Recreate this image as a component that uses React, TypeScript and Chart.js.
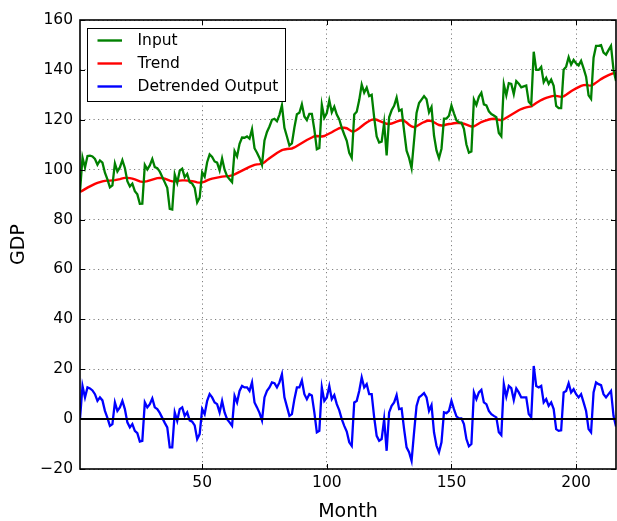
import { useEffect, useRef } from "react";
import { Chart, registerables } from "chart.js";

Chart.register(...registerables);

const months: number[] = Array.from({ length: 216 }, (_, i) => i + 1);

const trend: number[] = [
  91.1, 91.6, 92.2, 92.8, 93.3, 93.8, 94.3, 94.7, 95.0, 95.3,
  95.5, 95.6, 95.6, 95.7, 95.8, 96.0, 96.2, 96.5, 96.7, 96.7,
  96.6, 96.4, 96.1, 95.7, 95.3, 95.1, 95.2, 95.4, 95.7, 96.0,
  96.3, 96.6, 96.7, 96.6, 96.4, 96.0, 95.6, 95.3, 95.3, 95.4,
  95.6, 95.7, 95.7, 95.6, 95.5, 95.4, 95.2, 94.9, 94.8, 94.9,
  95.2, 95.7, 96.1, 96.4, 96.6, 96.8, 97.0, 97.2, 97.3, 97.4,
  97.5, 97.7, 98.1, 98.6, 99.1, 99.6, 100.1, 100.6, 101.1, 101.5,
  101.9, 102.1, 102.2, 102.4, 103.0, 103.8, 104.6, 105.3, 106.0, 106.7,
  107.3, 107.8, 108.1, 108.3, 108.4, 108.5, 108.9, 109.5, 110.1, 110.7,
  111.3, 111.9, 112.4, 112.9, 113.4, 113.5, 113.4, 113.3, 113.5, 114.0,
  114.5, 115.0, 115.6, 116.1, 116.6, 116.8, 116.8, 116.6, 116.0, 115.4,
  115.4, 115.9, 116.6, 117.4, 118.2, 118.9, 119.5, 120.0, 120.2, 120.0,
  119.6, 119.2, 118.8, 118.4, 118.3, 118.5, 118.9, 119.3, 119.6, 119.8,
  119.6, 118.9, 118.0, 117.3, 117.0, 117.4, 118.0, 118.6, 119.1, 119.5,
  119.7, 119.5, 119.0, 118.4, 117.9, 117.7, 117.8, 118.1, 118.3, 118.4,
  118.6, 118.7, 118.7, 118.6, 118.4, 118.1, 117.7, 117.3, 117.4, 117.9,
  118.5, 119.1, 119.5, 119.8, 120.1, 120.3, 120.4, 120.3, 120.0, 119.8,
  120.2, 120.8, 121.4, 122.0, 122.6, 123.2, 123.8, 124.3, 124.7, 125.0,
  125.2, 125.4, 126.0, 126.7, 127.3, 127.9, 128.4, 128.8, 129.1, 129.4,
  129.6, 129.6, 129.4, 129.2, 129.4, 130.0, 130.7, 131.4, 132.0, 132.6,
  133.1, 133.6, 133.9, 134.0, 133.8, 133.7, 134.2, 134.9, 135.6, 136.3,
  136.9, 137.4, 137.9, 138.3, 138.7, 138.5,
];

const detrended: number[] = [
  0, 13.3, 8.7, 12.7, 12.3, 11.5, 10, 7.3, 8.7, 7.5,
  3.3, 0.5, -2.7, -2, 6.7, 3.3, 4.7, 7.3, 4, -1.3,
  -3.3, -2, -4.7, -5.6, -9, -8.7, 6.7, 4.7, 6, 8.3,
  4.7, 4, 2.5, 0.5, -1.5, -3.3, -11.3, -11.3, 2.7, -0.7,
  4, 4.7, 1.3, 2.7, -0.5, -1, -2.5, -8, -6, 4,
  2, 7.3, 10, 8.7, 6.7, 6, 2.7, 7.3, 2.7, 0,
  -1.3, -2.7, 9.3, 6.7, 11.3, 13.3, 12.7, 12.7, 11.3, 14.7,
  6.7, 4.7, 2.5, -0.5, 8.7, 11.3, 12.7, 14.7, 14.4, 12.7,
  14.7, 18, 8.7, 5, 1.3, 2, 8, 12.7, 12.7, 15.5,
  10, 8, 10, 9.5, 2.7, -5.3, -4.7, 12.7, 7.3, 8.7,
  13.3, 8, 9.6, 6, 3.5, 0, -2.7, -5, -9.3, -10.7,
  6.7, 7.3, 11.3, 16.7, 12.7, 14, 10, 10, 0.7, -6.7,
  -8.7, -8, 0, -12.7, 2.7, 5.3, 6.7, 9.6, 4, 4.3,
  -4, -11.3, -13.3, -16.7, -5.3, 5.3, 8.7, 9.5, 10.4, 8.7,
  3.3, 5.6, -5.3, -10.7, -13.3, -9.3, 2.7, 2.4, 3.3, 7.3,
  4, 1.1, 0.3, 0.3, -2, -8, -10.9, -10, 10.7, 8,
  10.7, 11.7, 6.7, 6, 3.3, 2, 1.3, 0.7, -5.3, -6.4,
  14, 9, 13.3, 12.4, 7.7, 12.3, 10.7, 8.7, 8.7, 8.7,
  2, 0.7, 21.3, 13.3, 12.7, 13.3, 6.7, 8, 5.3, 6.7,
  4, -4, -4.7, -4.5, 10.7, 11.3, 14.4, 10.7, 12, 10,
  8.7, 10, 6.7, 3.3, -4, -5.3, 10.7, 14.7, 14, 13.6,
  10, 8.7, 10, 11.3, 1.3, -3,
];

// Input series = trend + detrended output
const input: number[] = trend.map((t, i) => Math.round((t + detrended[i]) * 100) / 100);

const xTicks: number[] = [50, 100, 150, 200];
const yTicks: number[] = [-20, 0, 20, 40, 60, 80, 100, 120, 140, 160];

const seriesNames = ["Input", "Trend", "Detrended Output"];
const seriesColors = ["#008000", "#ff0000", "#0000ff"];

const FONT = "'DejaVu Sans', 'Liberation Sans', sans-serif";

const framePlugin = {
  id: "mplFrame",
  afterDatasetsDraw(chart: any) {
    const { ctx, chartArea: a, scales } = chart;
    const xs = scales.x;
    const ys = scales.y;
    ctx.save();
    // zero line
    const y0 = ys.getPixelForValue(0);
    ctx.strokeStyle = "#000";
    ctx.lineWidth = 2;
    ctx.beginPath();
    ctx.moveTo(a.left, y0);
    ctx.lineTo(a.right, y0);
    ctx.stroke();
    // frame
    ctx.lineWidth = 1.6;
    ctx.strokeRect(a.left, a.top, a.right - a.left, a.bottom - a.top);
    // inward ticks
    ctx.lineWidth = 1;
    const tl = 5;
    ctx.beginPath();
    for (const v of xTicks) {
      const px = Math.round(xs.getPixelForValue(v)) + 0.5;
      ctx.moveTo(px, a.bottom);
      ctx.lineTo(px, a.bottom - tl);
      ctx.moveTo(px, a.top);
      ctx.lineTo(px, a.top + tl);
    }
    for (const v of yTicks) {
      const py = Math.round(ys.getPixelForValue(v)) + 0.5;
      ctx.moveTo(a.left, py);
      ctx.lineTo(a.left + tl, py);
      ctx.moveTo(a.right, py);
      ctx.lineTo(a.right - tl, py);
    }
    ctx.stroke();
    // legend
    const bx = 87.5, by = 28.5, bw = 198, bh = 73;
    ctx.fillStyle = "#fff";
    ctx.fillRect(bx, by, bw, bh);
    ctx.strokeStyle = "#000";
    ctx.lineWidth = 1;
    ctx.strokeRect(bx, by, bw, bh);
    ctx.font = `15.5px ${FONT}`;
    ctx.textBaseline = "middle";
    ctx.textAlign = "left";
    seriesNames.forEach((name, i) => {
      const cy = 40.5 + i * 23;
      ctx.strokeStyle = seriesColors[i];
      ctx.lineWidth = 2.4;
      ctx.beginPath();
      ctx.moveTo(97.5, cy);
      ctx.lineTo(122, cy);
      ctx.stroke();
      ctx.fillStyle = "#000";
      ctx.fillText(name, 137.5, cy);
    });
    ctx.restore();
  },
};

export default function App() {
  const ref = useRef<HTMLCanvasElement | null>(null);

  useEffect(() => {
    if (!ref.current) return;
    const mk = (arr: number[]) => arr.map((y, i) => ({ x: months[i], y }));
    const chart = new Chart(ref.current, {
      type: "line",
      data: {
        datasets: [
          { label: seriesNames[0], data: mk(input), borderColor: seriesColors[0], borderWidth: 2.3 },
          { label: seriesNames[1], data: mk(trend), borderColor: seriesColors[1], borderWidth: 2.4 },
          { label: seriesNames[2], data: mk(detrended), borderColor: seriesColors[2], borderWidth: 2.3 },
        ],
      },
      options: {
        responsive: false,
        animation: false,
        devicePixelRatio: 1,
        layout: { padding: { top: 20, right: 1, left: 0, bottom: 0 } },
        elements: { point: { radius: 0 }, line: { tension: 0, fill: false } },
        plugins: { legend: { display: false }, tooltip: { enabled: false } },
        scales: {
          x: {
            type: "linear",
            min: 1,
            max: 216,
            afterBuildTicks: (s: any) => {
              s.ticks = xTicks.map((v) => ({ value: v }));
            },
            afterFit: (s: any) => {
              s.height = 52;
            },
            grid: { color: "rgba(0,0,0,0.5)", lineWidth: 1, drawTicks: false },
            border: { display: false, dash: [1.2, 3.3] },
            ticks: {
              autoSkip: false,
              maxRotation: 0,
              padding: 5,
              color: "#000",
              font: { family: FONT, size: 15.5 },
            },
            title: {
              display: true,
              text: "Month",
              color: "#000",
              font: { family: FONT, size: 19, lineHeight: 1 },
              padding: { top: 0, bottom: -1 },
            },
          },
          y: {
            type: "linear",
            min: -20,
            max: 160,
            afterBuildTicks: (s: any) => {
              s.ticks = yTicks.map((v) => ({ value: v }));
            },
            afterFit: (s: any) => {
              s.width = 80;
            },
            grid: { color: "rgba(0,0,0,0.5)", lineWidth: 1, drawTicks: false },
            border: { display: false, dash: [1.2, 3.3] },
            ticks: {
              padding: 7,
              color: "#000",
              font: { family: FONT, size: 15.5 },
              callback: (v: any) => String(v).replace("-", "\u2212"),
            },
            title: {
              display: true,
              text: "GDP",
              color: "#000",
              font: { family: FONT, size: 19, lineHeight: 1 },
              padding: { top: 9.5, bottom: 0 },
            },
          },
        },
      },
      plugins: [framePlugin],
    });
    return () => chart.destroy();
  }, []);

  return (
    <div style={{ position: "fixed", left: 0, top: 0, width: 617, height: 521, background: "#fff" }}>
      <canvas ref={ref} width={617} height={521} style={{ display: "block", width: 617, height: 521 }} />
    </div>
  );
}
